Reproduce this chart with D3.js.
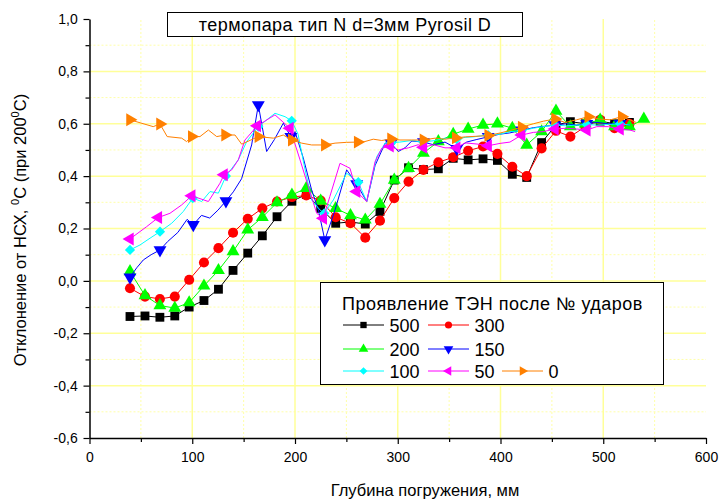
<!DOCTYPE html>
<html>
<head>
<meta charset="utf-8">
<script src="https://cdn.jsdelivr.net/npm/d3@7"></script>
<style>
body { margin:0; background:#fff; }
text { font-family: Arial, "Liberation Sans", sans-serif; fill:#000; }
</style>
</head>
<body>
<div id="chart"></div>
<script>
// Глубина погружения, мм (регулярная сетка для серий 500 / 300 / 200)
var depthA = [39.4, 54, 68.5, 83, 97, 111.4, 125.5, 139.7, 154, 168.2, 182.5, 197, 211, 225, 239.6, 254,
	268.4, 282.7, 296.6, 310.5, 325, 339.5, 354, 368.5, 383, 397, 411.5, 425.5, 440, 454, 468, 482.5,
	497, 511, 525.5, 539.5];

var y500 = [-0.136, -0.134, -0.139, -0.134, -0.10, -0.075, -0.032, 0.04, 0.106, 0.172, 0.245, 0.304,
	0.33, 0.277, 0.22, 0.225, 0.217, 0.265, 0.385, 0.432, 0.425, 0.428, 0.468, 0.462, 0.466, 0.46,
	0.407, 0.395, 0.528, 0.595, 0.608, 0.6, 0.61, 0.6, 0.605];

var y300 = [-0.028, -0.06, -0.069, -0.06, 0.004, 0.07, 0.125, 0.184, 0.237, 0.277, 0.303, 0.32,
	0.326, 0.307, 0.243, 0.22, 0.165, 0.23, 0.316, 0.379, 0.424, 0.453, 0.472, 0.497, 0.513, 0.485,
	0.436, 0.4, 0.506, 0.573, 0.551, 0.589, 0.615, 0.583, 0.6];

var y200 = [0.036, -0.056, -0.094, -0.104, -0.083, -0.019, 0.04, 0.112, 0.195, 0.243, 0.299, 0.328,
	0.354, 0.305, 0.277, 0.25, 0.233, 0.293, 0.385, 0.43, 0.488, 0.532, 0.56, 0.58, 0.595, 0.6,
	0.583, 0.519, 0.57, 0.649, 0.589, 0.6, 0.615, 0.589, 0.589, 0.618];

// Плотные серии: [глубина, отклонение, символ(1)]
var s150 = [[39.4,0.014,1],[46,0.05],[52.4,0.08],[60,0.1],[68.6,0.118,1],[76,0.15],[86,0.185],[95,0.235],
	[101,0.214,1],[109,0.25],[117,0.24],[125,0.27],[132.8,0.305,1],[140,0.34],[148,0.39],[157.8,0.519],
	[164.3,0.672,1],[172.4,0.494],[180,0.54],[188.6,0.602],[196,0.55,1],[200,0.57],[208,0.47],[216,0.35],
	[222.8,0.27],[229,0.156,1],[239,0.271],[250.3,0.424],[260,0.37,1],[269.8,0.303],[277.9,0.44],
	[287.7,0.526],[293.4,0.526,1],[300.5,0.494],[307,0.508],[313.6,0.534],[325,0.53,1],[334.6,0.52],
	[346,0.53],[357.4,0.505,1],[367,0.53],[377,0.54],[388,0.55,1],[399,0.56],[409,0.565],[420.6,0.575,1],
	[432,0.585],[442,0.59],[453,0.595,1],[464,0.6],[474,0.595],[484,0.6,1],[494,0.605],[505,0.6],
	[516.3,0.6,1],[526,0.595]];

var s100 = [[39.4,0.118,1],[49.1,0.137],[58.9,0.163],[68.6,0.188,1],[80,0.22],[91.3,0.265],[100.5,0.316,1],
	[109.2,0.303],[117.3,0.341],[125.4,0.335],[132.8,0.40,1],[144.8,0.462],[153,0.532],[164.3,0.589,1],
	[180.5,0.64],[190.3,0.627],[196.8,0.611,1],[203,0.56],[209,0.44],[216.2,0.309],[224.3,0.271],
	[228.5,0.258,1],[237.3,0.309],[250.3,0.411],[261.6,0.377,1],[269.8,0.303],[279.5,0.474],[287.7,0.526],
	[294,0.528,1],[302,0.53],[313.6,0.536],[325,0.53,1],[336.3,0.536],[346,0.545],[357.4,0.541,1],
	[365.5,0.548],[373.5,0.55],[388,0.557,1],[399.5,0.56],[409.2,0.57],[420.6,0.573,1],[432,0.583],
	[441.7,0.589],[453,0.595,1],[464.4,0.592],[474,0.595],[484,0.597,1],[493.7,0.595],[505,0.597],
	[516.3,0.6,1],[526,0.595]];

var s50 = [[39.4,0.160,1],[55.6,0.207],[67,0.242,1],[78.3,0.258],[89.7,0.29],[99.5,0.325,1],[115.7,0.303],
	[127,0.373],[130.9,0.405,1],[138.4,0.424],[144.8,0.462],[151.3,0.538],[163.3,0.592,1],[180.5,0.634],
	[195.1,0.583,1],[204.9,0.462],[213,0.36],[221.1,0.258],[227.5,0.239,1],[233.9,0.322],[243.8,0.449],
	[253.5,0.43],[260,0.341,1],[269.8,0.303],[277.9,0.455],[284.4,0.506],[292.5,0.515,1],[300.5,0.5],
	[310.3,0.508],[320,0.52],[325,0.51,1],[334.6,0.52],[346,0.508],[357.4,0.508,1],[365.5,0.527],
	[378.4,0.522],[388,0.516,1],[399.5,0.525],[409.2,0.53],[420.6,0.557,1],[432,0.567],[441.7,0.57],
	[453,0.58,1],[464.4,0.583],[474,0.58],[484,0.576,1],[493.7,0.589],[505,0.589],[516.3,0.58,1],
	[526,0.576],[531,0.57]];

var s0 = [[39.4,0.615,1],[62,0.589],[68.6,0.599,1],[75.6,0.551],[89.7,0.545],[94.5,0.532],[99.5,0.551,1],
	[107.5,0.551],[115.7,0.576],[123.8,0.551],[131.9,0.557,1],[141.6,0.557],[148.1,0.522],[164.3,0.551,1],
	[178.9,0.545],[188.6,0.557],[196.8,0.538,1],[206.5,0.526],[216.2,0.519],[229,0.519,1],[239,0.526],
	[250.3,0.529],[261,0.53,1],[268,0.532],[276.2,0.541],[284.4,0.536],[293.4,0.542,1],[302.2,0.538],
	[313.6,0.538],[325,0.538,1],[336.3,0.545],[346,0.541],[356.4,0.546,1],[366,0.55],[376,0.552],
	[388,0.555,1],[400,0.565],[410,0.575],[420.6,0.587,1],[432,0.6],[442,0.61],[453,0.618,1],[463,0.605],
	[474,0.615],[485.4,0.627,1],[496,0.618],[507,0.615],[518,0.627,1],[526,0.615],[532,0.605]];

var seriesNames = ["500", "300", "200", "150", "100", "50", "0"];
var xTicks = [0, 100, 200, 300, 400, 500, 600];
var yTicks = [-0.6, -0.4, -0.2, 0.0, 0.2, 0.4, 0.6, 0.8, 1.0];

// Сборка серий
function regular(vals) {
	return vals.map(function(v, i) { return [depthA[i], v, 1]; });
}
var series = [
	{name: seriesNames[0], color: "#000000", shape: "square",  pts: regular(y500)},
	{name: seriesNames[1], color: "#ff0000", shape: "circle",  pts: regular(y300)},
	{name: seriesNames[2], color: "#00ff00", shape: "up",      pts: regular(y200)},
	{name: seriesNames[3], color: "#0000ff", shape: "down",    pts: s150},
	{name: seriesNames[4], color: "#00ffff", shape: "diamond", pts: s100},
	{name: seriesNames[5], color: "#ff00ff", shape: "left",    pts: s50},
	{name: seriesNames[6], color: "#ff8000", shape: "right",   pts: s0}
];

var W = 721, H = 499;
var x = d3.scaleLinear().domain([0, 600]).range([89.5, 706]);
var y = d3.scaleLinear().domain([-0.6, 1.0]).range([438, 19]);

var svg = d3.select("#chart").append("svg")
	.attr("width", W)
	.attr("height", H);

// Сетка
var g = svg.append("g");
var minorX = d3.range(50, 600, 100), majorX = d3.range(100, 600, 100);
var minorY = [-0.5, -0.3, -0.1, 0.1, 0.3, 0.5, 0.7, 0.9], majorY = [-0.4, -0.2, 0, 0.2, 0.4, 0.6, 0.8];

g.selectAll(".gxm").data(minorX).enter().append("line")
	.attr("x1", x).attr("x2", x).attr("y1", y(-0.6)).attr("y2", y(1.0))
	.attr("stroke", "#ffffa8").attr("stroke-dasharray", "2,2");
g.selectAll(".gym").data(minorY).enter().append("line")
	.attr("x1", x(0)).attr("x2", x(600)).attr("y1", y).attr("y2", y)
	.attr("stroke", "#ffffa8").attr("stroke-dasharray", "2,2");
g.selectAll(".gx").data(majorX).enter().append("line")
	.attr("x1", x).attr("x2", x).attr("y1", y(-0.6)).attr("y2", y(1.0))
	.attr("stroke", "#ffff99").attr("stroke-width", 1.5);
g.selectAll(".gy").data(majorY).enter().append("line")
	.attr("x1", x(0)).attr("x2", x(600)).attr("y1", y).attr("y2", y)
	.attr("stroke", "#ffff99").attr("stroke-width", 1.5);

// Оси
var fmtY = function(d) { return d.toFixed(1).replace(".", ","); };

var xAxis = svg.append("g").attr("transform", "translate(0," + y(-0.6) + ")")
	.call(d3.axisBottom(x).tickValues(xTicks).tickFormat(d3.format("d")).tickSize(6).tickSizeOuter(0));
svg.append("g").attr("transform", "translate(0," + y(-0.6) + ")")
	.call(d3.axisBottom(x).tickValues(minorX).tickFormat("").tickSize(4).tickSizeOuter(0))
	.select(".domain").remove();

var yAxis = svg.append("g").attr("transform", "translate(" + x(0) + ",0)")
	.call(d3.axisLeft(y).tickValues(yTicks).tickFormat(fmtY).tickSize(6).tickSizeOuter(0));
svg.append("g").attr("transform", "translate(" + x(0) + ",0)")
	.call(d3.axisLeft(y).tickValues(minorY).tickFormat("").tickSize(4).tickSizeOuter(0))
	.select(".domain").remove();

svg.selectAll(".domain").attr("stroke", "#000").attr("stroke-width", 1.5);
svg.selectAll(".tick line").attr("stroke", "#000").attr("stroke-width", 1.2);
xAxis.selectAll(".tick text").attr("font-size", 14).attr("dy", "1.05em").attr("font-family", null);
yAxis.selectAll(".tick text").attr("font-size", 14).attr("dx", "-0.2em").attr("font-family", null);

// Подписи осей
svg.append("text")
	.attr("x", 425).attr("y", 496)
	.attr("text-anchor", "middle").attr("font-size", 16.5)
	.text("Глубина погружения, мм");

var ylab = svg.append("text")
	.attr("transform", "translate(26,230) rotate(-90)")
	.attr("text-anchor", "middle").attr("font-size", 16.5);
ylab.append("tspan").text("Отклонение от НСХ, ");
ylab.append("tspan").attr("dy", -7).attr("font-size", 11).text("0");
ylab.append("tspan").attr("dy", 7).text("С (при 200");
ylab.append("tspan").attr("dy", -7).attr("font-size", 11).text("0");
ylab.append("tspan").attr("dy", 7).text("С)");

// Символы
function symbolPath(shape, size) {
	var t = d3.symbolTriangle, rot = 0, type = d3.symbolSquare;
	if (shape === "circle") type = d3.symbolCircle;
	if (shape === "up" || shape === "down" || shape === "left" || shape === "right") type = t;
	if (shape === "down") rot = 180;
	if (shape === "left") rot = -90;
	if (shape === "right") rot = 90;
	if (shape === "diamond") rot = 45;
	return {d: d3.symbol().type(type).size(size)(), rot: rot};
}
var symSize = {square: 78, circle: 80, up: 72, down: 72, left: 72, right: 72, diamond: 52};

var line = d3.line().x(function(d) { return x(d[0]); }).y(function(d) { return y(d[1]); });

series.forEach(function(s) {
	var sg = svg.append("g");
	sg.append("path")
		.attr("d", line(s.pts))
		.attr("fill", "none")
		.attr("stroke", s.color)
		.attr("stroke-width", 1);
	var sp = symbolPath(s.shape, symSize[s.shape]);
	sg.selectAll("path.sym")
		.data(s.pts.filter(function(d) { return d[2] === 1; }))
		.enter().append("path")
		.attr("class", "sym")
		.attr("d", sp.d)
		.attr("fill", s.color)
		.attr("transform", function(d) {
			return "translate(" + x(d[0]) + "," + y(d[1]) + ") rotate(" + sp.rot + ")";
		});
});

// Заголовок
svg.append("rect")
	.attr("x", 167.5).attr("y", 12.5).attr("width", 355).attr("height", 24)
	.attr("fill", "#fff").attr("stroke", "#000").attr("stroke-width", 1);
svg.append("text")
	.attr("x", 345).attr("y", 30.5)
	.attr("text-anchor", "middle").attr("font-size", 18).attr("letter-spacing", 0.45)
	.text("термопара тип N d=3мм Pyrosil D");

// Легенда
var leg = svg.append("g");
leg.append("rect")
	.attr("x", 320.5).attr("y", 282.5).attr("width", 343).attr("height", 102)
	.attr("fill", "#fff").attr("stroke", "#000").attr("stroke-width", 1);
leg.append("text")
	.attr("x", 342).attr("y", 309.5).attr("font-size", 18).attr("letter-spacing", 0.5)
	.text("Проявление ТЭН после № ударов");

var legPos = [[343, 325], [428, 325], [343, 349], [428, 349], [343, 371], [428, 371], [502, 371]];
series.forEach(function(s, i) {
	var p = legPos[i];
	var lg = leg.append("g").attr("transform", "translate(" + p[0] + "," + p[1] + ")");
	lg.append("line").attr("x1", 0).attr("x2", 41).attr("y1", 0).attr("y2", 0)
		.attr("stroke", s.color).attr("stroke-width", 1);
	var sp = symbolPath(s.shape, s.shape === "diamond" ? 30 : 40);
	lg.append("path").attr("d", sp.d).attr("fill", s.color)
		.attr("transform", "translate(20.5,0) rotate(" + sp.rot + ")");
	lg.append("text").attr("x", 46.5).attr("y", 6.5).attr("font-size", 18).text(s.name);
});
</script>
</body>
</html>
